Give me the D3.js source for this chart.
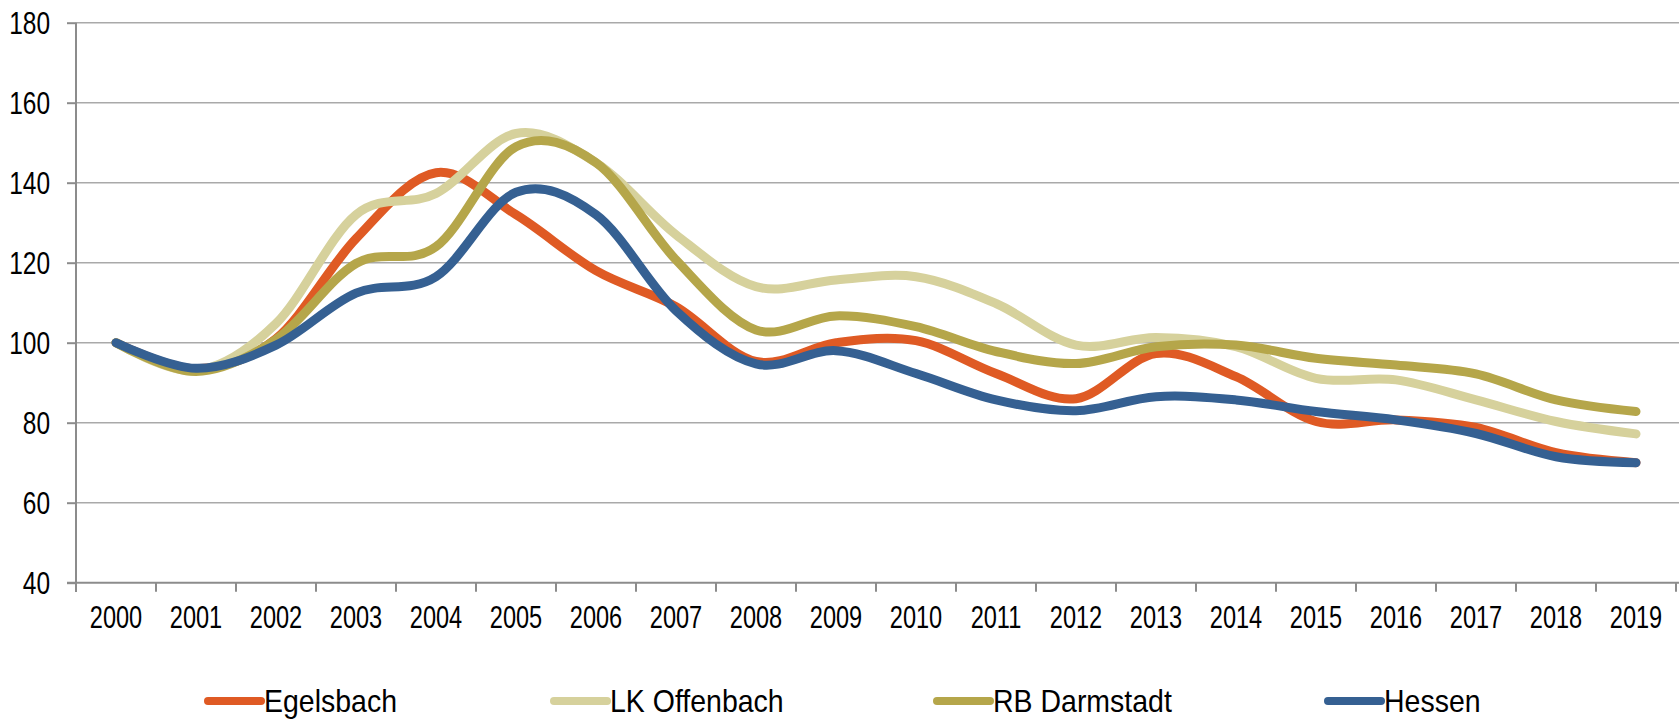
<!DOCTYPE html>
<html>
<head>
<meta charset="utf-8">
<script src="https://cdn.jsdelivr.net/npm/d3@7"></script>
<style>
  body { margin: 0; background: #fff; }
  svg { display: block; }
  text { font-family: "Liberation Sans", Arial, sans-serif; fill: #000; }
</style>
</head>
<body>
<svg id="chart" width="1679" height="720"></svg>
<script>
// data
const years = ["2000","2001","2002","2003","2004","2005","2006","2007","2008","2009",
               "2010","2011","2012","2013","2014","2015","2016","2017","2018","2019"];
const egelsbach   = [100, 93.5, 101, 126, 142.5, 132, 118, 109, 95.3, 100, 100.5, 92.3, 86, 97.3, 91.5, 80.3, 80.7, 78.8, 72.5, 70];
const lkOffenbach = [100, 93, 104.8, 132, 137.3, 152.3, 145, 127, 114, 115.7, 116.5, 109.8, 99.4, 101.3, 99, 91.1, 90.7, 85.7, 80.3, 77.2];
const rbDarmstadt = [100, 92.8, 100.8, 119.8, 124, 149, 145, 120.7, 103.2, 106.7, 104, 97.8, 94.8, 99, 99.4, 96.1, 94.4, 92.2, 85.7, 82.8];
const hessen      = [100, 93.6, 99.4, 112.4, 116.5, 137.6, 132, 108, 94.7, 98, 92.3, 85.7, 83, 86.5, 85.7, 82.8, 80.7, 77.3, 71.5, 70];
const yTicks = [40, 60, 80, 100, 120, 140, 160, 180];

const series = [
  { name: "Egelsbach",    values: egelsbach,   color: "#df5a24" },
  { name: "LK Offenbach", values: lkOffenbach, color: "#d6d19c" },
  { name: "RB Darmstadt", values: rbDarmstadt, color: "#b5a64a" },
  { name: "Hessen",       values: hessen,      color: "#356092" }
];

// layout
const legendX = [208, 554, 937, 1328];

const svg = d3.select("#chart");

const x = d3.scaleBand().domain(years).range([76, 1676]);
const y = d3.scaleLinear().domain([40, 180]).range([582.7, 22.7]);

// condense text like a narrow font
function squeeze(k) {
  return sel => sel.each(function () {
    const w = this.getComputedTextLength();
    this.setAttribute("textLength", w * k);
    this.setAttribute("lengthAdjust", "spacingAndGlyphs");
  });
}

// gridlines
svg.append("g")
  .selectAll("line")
  .data(yTicks.slice(1))
  .join("line")
    .attr("x1", 76).attr("x2", 1679)
    .attr("y1", d => y(d)).attr("y2", d => y(d))
    .attr("stroke", "#a9a9a9")
    .attr("stroke-width", 1.5);

// y axis
const yAxis = svg.append("g")
  .attr("transform", "translate(76,0)")
  .call(d3.axisLeft(y).tickValues(yTicks).tickSize(9).tickPadding(17));
yAxis.select(".domain").attr("stroke", "#8c8c8c").attr("stroke-width", 2)
  .attr("d", `M0,${y(180)}V592`);
yAxis.selectAll(".tick line").attr("stroke", "#8c8c8c").attr("stroke-width", 2);
yAxis.selectAll(".tick text")
  .attr("font-size", 31)
  .attr("dy", "0.36em")
  .call(squeeze(0.79));

// x axis
const xAxis = svg.append("g");
xAxis.append("line")
  .attr("x1", 67).attr("x2", 1679)
  .attr("y1", y(40)).attr("y2", y(40))
  .attr("stroke", "#8c8c8c").attr("stroke-width", 2);
xAxis.selectAll(".xt")
  .data(years.map(d => x(d)).concat([x.range()[1]]))
  .join("line")
    .attr("class", "xt")
    .attr("x1", d => d).attr("x2", d => d)
    .attr("y1", y(40)).attr("y2", y(40) + 9)
    .attr("stroke", "#8c8c8c").attr("stroke-width", 2);
xAxis.selectAll("text")
  .data(years)
  .join("text")
    .attr("x", d => x(d) + x.bandwidth() / 2)
    .attr("y", 628)
    .attr("text-anchor", "middle")
    .attr("font-size", 31)
    .text(d => d)
    .call(squeeze(0.76));

// lines
const line = d3.line()
  .x((d, i) => x(years[i]) + x.bandwidth() / 2)
  .y(d => y(d))
  .curve(d3.curveCardinal.tension(0));

svg.append("g")
  .selectAll("path")
  .data(series)
  .join("path")
    .attr("d", d => line(d.values))
    .attr("fill", "none")
    .attr("stroke", d => d.color)
    .attr("stroke-width", 9)
    .attr("stroke-linecap", "round")
    .attr("stroke-linejoin", "round");

// legend
const legend = svg.append("g")
  .selectAll("g")
  .data(series)
  .join("g")
    .attr("transform", (d, i) => `translate(${legendX[i]},0)`);

legend.append("line")
  .attr("x1", 0).attr("x2", 53)
  .attr("y1", 701).attr("y2", 701)
  .attr("stroke", d => d.color)
  .attr("stroke-width", 8)
  .attr("stroke-linecap", "round");

legend.append("text")
  .attr("x", 56)
  .attr("y", 712)
  .attr("font-size", 32)
  .text(d => d.name)
  .call(squeeze(0.89));
</script>
</body>
</html>
